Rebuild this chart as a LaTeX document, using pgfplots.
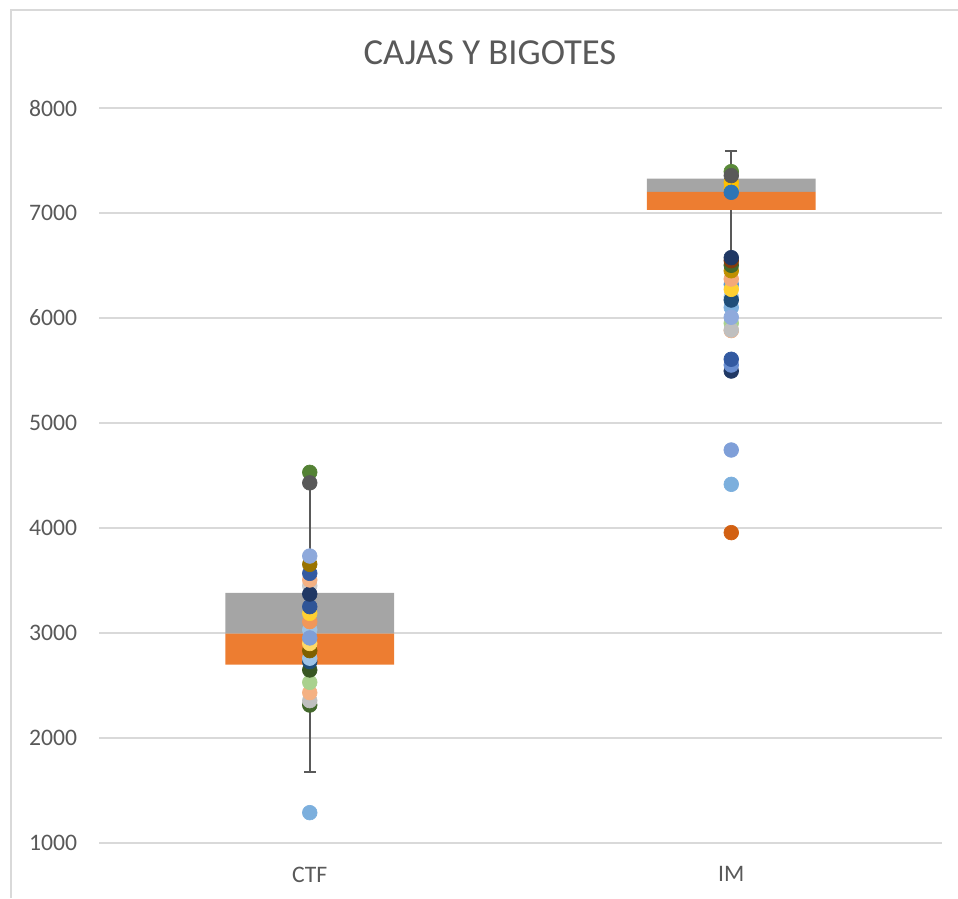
\documentclass[border=0pt]{standalone}
\usepackage{pgfplots}
\pgfplotsset{compat=1.18}
\usepackage{fontspec}
\setmainfont{Carlito}
\definecolor{gridc}{HTML}{D9D9D9}
\definecolor{txt}{HTML}{595959}
\definecolor{boxor}{HTML}{ED7D31}
\definecolor{boxgr}{HTML}{A5A5A5}
\definecolor{whisk}{HTML}{595959}
\definecolor{c7CAFDD}{HTML}{7CAFDD}
\definecolor{c43682B}{HTML}{43682B}
\definecolor{cBFBFBF}{HTML}{BFBFBF}
\definecolor{cF4B183}{HTML}{F4B183}
\definecolor{cA9D18E}{HTML}{A9D18E}
\definecolor{c385723}{HTML}{385723}
\definecolor{c1F4E79}{HTML}{1F4E79}
\definecolor{c9DC3E6}{HTML}{9DC3E6}
\definecolor{c7F6000}{HTML}{7F6000}
\definecolor{cFFD966}{HTML}{FFD966}
\definecolor{c7F9FD8}{HTML}{7F9FD8}
\definecolor{cF1975A}{HTML}{F1975A}
\definecolor{cFFD032}{HTML}{FFD032}
\definecolor{c2F5597}{HTML}{2F5597}
\definecolor{cC9C9C9}{HTML}{C9C9C9}
\definecolor{c203864}{HTML}{203864}
\definecolor{c335AA1}{HTML}{335AA1}
\definecolor{c997300}{HTML}{997300}
\definecolor{c8EA9DB}{HTML}{8EA9DB}
\definecolor{c548235}{HTML}{548235}
\definecolor{c595959}{HTML}{595959}
\definecolor{cD26012}{HTML}{D26012}
\definecolor{c698ED0}{HTML}{698ED0}
\definecolor{c8FAADC}{HTML}{8FAADC}
\definecolor{c5B9BD5}{HTML}{5B9BD5}
\definecolor{cF4A97A}{HTML}{F4A97A}
\definecolor{cBF9000}{HTML}{BF9000}
\definecolor{c843C0C}{HTML}{843C0C}
\definecolor{cFFC000}{HTML}{FFC000}
\definecolor{c2E75B6}{HTML}{2E75B6}
\definecolor{c5A8A39}{HTML}{5A8A39}
\pgfplotsset{
  common/.style={
    at={(59.4pt,33pt)}, anchor=south west, scale only axis,
    width=505.8pt, height=441pt,
    xmin=-0.5, xmax=1.5, ymin=1000, ymax=8000,
    axis line style={draw=none}, major tick length=0pt,
  },
  dot/.style={only marks, mark=*, mark size=4.4pt, mark options={line width=0.4pt, draw=#1, fill=#1}},
}
\begin{document}
\begin{tikzpicture}
\useasboundingbox (0,0) rectangle (574.8pt,538.8pt);
\draw[gridc, line width=1.2pt] (6.6pt,0) -- (6.6pt,532.8pt) -- (574.8pt,532.8pt);
\node[anchor=base, text=txt, font=\fontsize{22pt}{26pt}\selectfont] at (294pt,499.8pt) {CAJAS Y BIGOTES};
% grid, tick labels and whiskers
\begin{axis}[common,
  xtick={0,1}, xticklabels={CTF,IM},
  ytick={1000,2000,...,8000},
  ymajorgrids, grid style={draw=gridc, line width=1.1pt},
  tick label style={font=\fontsize{14.2pt}{17pt}\selectfont, text=txt},
  y tick label style={inner sep=0pt, anchor=east},
  x tick label style={inner sep=0pt, anchor=north},
  yticklabel shift=13pt, xticklabel shift=14pt,
  scaled y ticks=false,
  /pgf/number format/assume math mode=true,
  /pgf/number format/1000 sep={},
]
\addplot[whisk, line width=1.2pt, mark=-, mark size=3.6pt, mark options={line width=1.2pt}] coordinates {(0,1676) (0,4430)};
\addplot[whisk, line width=1.2pt, mark=-, mark size=3.6pt, mark options={line width=1.2pt}] coordinates {(1,6575) (1,7594)};
\end{axis}
% boxes
\begin{axis}[common, xtick=\empty, ytick=\empty, ybar stacked, bar width=0.4]
\addplot[draw=none, fill=none] coordinates {(0,2700) (1,7029)};
\addplot[draw=none, fill=boxor] coordinates {(0,295) (1,173)};
\addplot[draw=none, fill=boxgr] coordinates {(0,388) (1,126)};
\end{axis}
% points
\begin{axis}[common, xtick=\empty, ytick=\empty]
% CTF points
\addplot[dot=c7CAFDD] coordinates {(0,1289)};
\addplot[dot=c43682B] coordinates {(0,2314)};
\addplot[dot=cBFBFBF] coordinates {(0,2356)};
\addplot[dot=cF4B183] coordinates {(0,2432)};
\addplot[dot=cA9D18E] coordinates {(0,2530)};
\addplot[dot=c385723] coordinates {(0,2648)};
\addplot[dot=c1F4E79] coordinates {(0,2727)};
\addplot[dot=c9DC3E6] coordinates {(0,2760)};
\addplot[dot=c7F6000] coordinates {(0,2832)};
\addplot[dot=cFFD966] coordinates {(0,2900)};
\addplot[dot=c9DC3E6] coordinates {(0,3030)};
\addplot[dot=c7F9FD8] coordinates {(0,2953)};
\addplot[dot=cF1975A] coordinates {(0,3108)};
\addplot[dot=cFFD032] coordinates {(0,3187)};
\addplot[dot=c2F5597] coordinates {(0,3251)};
\addplot[dot=cC9C9C9] coordinates {(0,3450)};
\addplot[dot=c203864] coordinates {(0,3371)};
\addplot[dot=cF4B183] coordinates {(0,3505)};
\addplot[dot=c335AA1] coordinates {(0,3568)};
\addplot[dot=c997300] coordinates {(0,3654)};
\addplot[dot=c8EA9DB] coordinates {(0,3733)};
\addplot[dot=c548235] coordinates {(0,4530)};
\addplot[dot=c595959] coordinates {(0,4430)};
% IM points
\addplot[dot=cD26012] coordinates {(1,3956)};
\addplot[dot=c7CAFDD] coordinates {(1,4416)};
\addplot[dot=c7F9FD8] coordinates {(1,4743)};
\addplot[dot=c203864] coordinates {(1,5495)};
\addplot[dot=c698ED0] coordinates {(1,5552)};
\addplot[dot=c335AA1] coordinates {(1,5607)};
\addplot[dot=cF4B183] coordinates {(1,5880)};
\addplot[dot=cA9D18E] coordinates {(1,5950)};
\addplot[dot=cBFBFBF] coordinates {(1,5886)};
\addplot[dot=c7CAFDD] coordinates {(1,6100)};
\addplot[dot=c8FAADC] coordinates {(1,6007)};
\addplot[dot=c9DC3E6] coordinates {(1,6200)};
\addplot[dot=c1F4E79] coordinates {(1,6171)};
\addplot[dot=c5B9BD5] coordinates {(1,6320)};
\addplot[dot=cFFD032] coordinates {(1,6273)};
\addplot[dot=cF4A97A] coordinates {(1,6371)};
\addplot[dot=cBF9000] coordinates {(1,6450)};
\addplot[dot=c43682B] coordinates {(1,6502)};
\addplot[dot=c843C0C] coordinates {(1,6546)};
\addplot[dot=c203864] coordinates {(1,6575)};
\addplot[dot=cFFC000] coordinates {(1,7230)};
\addplot[dot=cFFC000] coordinates {(1,7290)};
\addplot[dot=c2E75B6] coordinates {(1,7197)};
\addplot[dot=c5A8A39] coordinates {(1,7394)};
\addplot[dot=c595959] coordinates {(1,7356)};
\end{axis}
\end{tikzpicture}
\end{document}
